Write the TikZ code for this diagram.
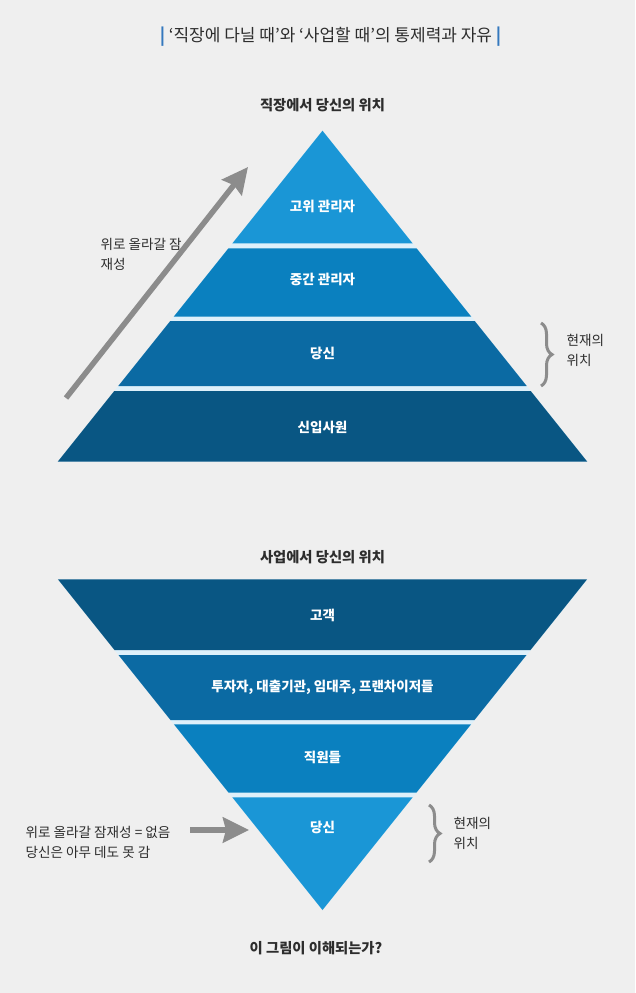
\documentclass[tikz,border=0pt]{standalone}
\usepackage{fontspec}
\setmainfont{Noto Sans CJK KR}
\usetikzlibrary{arrows.meta,positioning,decorations.pathreplacing}

\definecolor{bgGray}{RGB}{239,239,239}
\definecolor{tierA}{RGB}{26,150,214}
\definecolor{tierB}{RGB}{10,128,191}
\definecolor{tierC}{RGB}{11,106,163}
\definecolor{tierD}{RGB}{9,86,131}
\definecolor{gapBlue}{RGB}{222,240,250}
\definecolor{inkGray}{RGB}{45,45,45}
\definecolor{arrowGray}{RGB}{140,140,140}
\definecolor{barBlue}{RGB}{52,120,190}

% band of the upright pyramid: top y, bottom y, colour
\newcommand{\upband}[3]{%
  \fill[#3] ({322.5-0.8*(#1-130.7)},#1) -- ({322.5+0.8*(#1-130.7)},#1)
    -- ({322.5+0.8*(#2-130.7)},#2) -- ({322.5-0.8*(#2-130.7)},#2) -- cycle;}
% band of the upside-down pyramid
\newcommand{\downband}[3]{%
  \fill[#3] ({322.5-0.8*(910-#1)},#1) -- ({322.5+0.8*(910-#1)},#1)
    -- ({322.5+0.8*(910-#2)},#2) -- ({322.5-0.8*(910-#2)},#2) -- cycle;}

\begin{document}
\begin{tikzpicture}[
    x=1pt,y=-1pt,
    tier/.style={text=white,font=\bfseries\fontsize{13.5}{16}\selectfont},
    head/.style={text=inkGray,font=\bfseries\fontsize{14.3}{17}\selectfont},
    note/.style={text=inkGray,font=\fontsize{13.6}{20}\selectfont,align=left,anchor=west},
    rise/.style={-{Stealth[length=26pt,width=25pt,inset=3pt]},line width=5.5pt,draw=arrowGray},
    curly/.style={decorate,decoration={brace,amplitude=11pt},line width=3pt,draw=arrowGray}
  ]
  \fill[bgGray] (0,0) rectangle (635,993);
  \useasboundingbox (0,0) rectangle (635,993);

  % title
  \node[text=inkGray,font=\fontsize{17}{20}\selectfont] (title) at (330.5,37)
       {{\color{barBlue}\bfseries|}\ ‘직장에 다닐 때’와 ‘사업할 때’의 통제력과 자유\ {\color{barBlue}\bfseries|}};

  % upright pyramid
  \node[head] (jobHead) at (322.5,105) {직장에서 당신의 위치};
  \fill[gapBlue] (322.5,130.7) -- (587.5,461.7) -- (57.9,461.7) -- cycle;
  \upband{130.7}{243.3}{tierA}
  \upband{248.3}{316.7}{tierB}
  \upband{321}{386}{tierC}
  \upband{391}{461.7}{tierD}
  \node[tier] (senior) at (322.5,206) {고위 관리자};
  \node[tier] (middle) at (322.5,279.5) {중간 관리자};
  \node[tier] (youJob) at (322.5,353) {당신};
  \node[tier] (rookie) at (322.5,427) {신입사원};

  \coordinate (riseFoot) at (66,398);
  \coordinate (riseTop)  at (248,167);
  \draw[rise] (riseFoot) -- (riseTop);
  \node[note] (riseNote) at (97,254) {위로 올라갈 잠\\재성};

  \coordinate (jobBraceTop) at (541,323);
  \coordinate (jobBraceBot) at (541,386);
  \draw[curly] (jobBraceTop) -- (jobBraceBot);
  \node[note] (jobNow) at (563,350.5) {현재의\\위치};

  % upside-down pyramid
  \node[head] (bizHead) at (322.5,557) {사업에서 당신의 위치};
  \fill[gapBlue] (57.9,579.3) -- (587.5,579.3) -- (322.5,910) -- cycle;
  \downband{579.3}{650}{tierD}
  \downband{655}{720}{tierC}
  \downband{724.3}{792.7}{tierB}
  \downband{797.3}{910}{tierA}
  \node[tier] (client)  at (322.5,615) {고객};
  \node[tier] (backers) at (322.5,687) {투자자, 대출기관, 임대주, 프랜차이저들};
  \node[tier] (staff)   at (322.5,757) {직원들};
  \node[tier] (youBiz)  at (322.5,827.5) {당신};

  \coordinate (stuckTail) at (190,830);
  \coordinate (stuckTip)  at (249,830);
  \draw[rise] (stuckTail) -- (stuckTip);
  \node[note] (stuckNote) at (22,842) {위로 올라갈 잠재성 = 없음\\당신은 아무 데도 못 감};

  \coordinate (bizBraceTop) at (429,805);
  \coordinate (bizBraceBot) at (429,862);
  \draw[curly] (bizBraceTop) -- (bizBraceBot);
  \node[note] (bizNow) at (450,833) {현재의\\위치};

  \node[head] (question) at (316,948) {이 그림이 이해되는가?};
\end{tikzpicture}
\end{document}
